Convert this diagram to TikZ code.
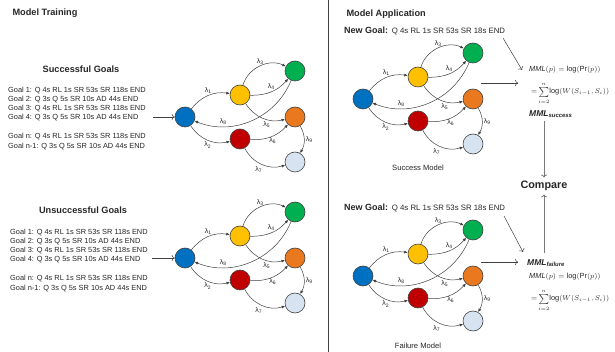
\documentclass[tikz,border=0pt]{standalone}
\usepackage{fontspec}
\setmainfont{Liberation Sans}
\usetikzlibrary{arrows.meta,calc}
\definecolor{TextClr}{RGB}{38,38,38}
\definecolor{EdgeClr}{RGB}{64,64,64}
\definecolor{RuleClr}{RGB}{120,120,120}
\definecolor{StartClr}{RGB}{0,112,192}
\definecolor{YellowClr}{RGB}{255,192,0}
\definecolor{GreenClr}{RGB}{0,176,80}
\definecolor{OrangeClr}{RGB}{234,120,30}
\definecolor{RedClr}{RGB}{192,0,0}
\definecolor{PaleClr}{RGB}{216,227,242}

\begin{document}
\begin{tikzpicture}[x=1pt,y=-1pt,
  state/.style={circle,draw=EdgeClr,line width=.6pt,minimum size=20pt,inner sep=0pt},
  trans/.style={draw=EdgeClr,line width=.5pt,-{Latex[length=3.5pt,width=3pt]}},
  lbl/.style={font=\fontsize{7}{8}\selectfont,text=TextClr,inner sep=1.5pt},
  title/.style={font=\fontsize{9.2}{11}\selectfont\bfseries,text=TextClr},
  goals/.style={font=\fontsize{7.4}{9.3}\selectfont,text=TextClr,align=left,inner sep=0pt},
  newgoal/.style={text=TextClr,inner sep=0pt},
  formula/.style={font=\fontsize{7.4}{9}\selectfont,text=TextClr,inner sep=0pt},
  mml/.style={font=\fontsize{8.5}{10}\selectfont\bfseries\itshape,text=TextClr,inner sep=0pt},
  caption/.style={font=\fontsize{7.6}{9}\selectfont,text=TextClr},
  link/.style={draw=EdgeClr,line width=.5pt,-{To[length=3pt,width=6pt]}},
  flow/.style={draw=RuleClr,line width=.8pt,-{To[length=3pt,width=6pt]}}]
\useasboundingbox (0,0) rectangle (615,352);

\draw[EdgeClr,line width=.7pt] (328,0) -- (328,352);

% left panel
\node[title,anchor=west] (train) at (9,13) {Model Training};
\node[title] (succ) at (81,69) {Successful Goals};
\node[goals,anchor=north west] (sgoals) at (8,86.5) {Goal 1: Q 4s RL 1s SR 53s SR 118s END\\
  Goal 2: Q 3s Q 5s SR 10s AD 44s END\\
  Goal 3: Q 4s RL 1s SR 53s SR 118s END\\
  Goal 4: Q 3s Q 5s SR 10s AD 44s END\\[9.6pt]
  Goal n: Q 4s RL 1s SR 53s SR 118s END\\
  Goal n-1: Q 3s Q 5s SR 10s AD 44s END};
\node[title] (unsucc) at (83,210) {Unsuccessful Goals};
\node[goals,anchor=north west] (ugoals) at (10,228.5) {Goal 1: Q 4s RL 1s SR 53s SR 118s END\\
  Goal 2: Q 3s Q 5s SR 10s AD 44s END\\
  Goal 3: Q 4s RL 1s SR 53s SR 118s END\\
  Goal 4: Q 3s Q 5s SR 10s AD 44s END\\[9.6pt]
  Goal n: Q 4s RL 1s SR 53s SR 118s END\\
  Goal n-1: Q 3s Q 5s SR 10s AD 44s END};

% the four state models
\foreach \g/\bx/\by in {s/185/117, u/185/258, a/363/99, f/363/276}{
  \begin{scope}[shift={(\bx,\by)}]
    \node[state,fill=StartClr] (\g b) at (0,0) {};
    \node[state,fill=YellowClr] (\g y) at (55,-22) {};
    \node[state,fill=GreenClr] (\g g) at (110,-46) {};
    \node[state,fill=OrangeClr] (\g o) at (110,0) {};
    \node[state,fill=RedClr] (\g r) at (55,22) {};
    \node[state,fill=PaleClr] (\g p) at (110,45) {};
    \draw[trans] (\g b) to[bend left=30] node[lbl,above] {λ\textsubscript{1}} (\g y);
    \draw[trans] (\g y) to[bend left=50] node[lbl,above] {λ\textsubscript{3}} (\g g);
    \draw[trans] (\g y) to[bend right=25] node[lbl,above,pos=.5] {λ\textsubscript{4}} (\g g);
    \draw[trans] (\g y) to[bend right=35] node[lbl,below,pos=.6] {λ\textsubscript{5}} (\g o);
    \draw[trans] (\g g) to[bend left=45] node[lbl,above,pos=.75] {λ\textsubscript{8}} (\g b);
    \draw[trans] (\g b) to[bend right=35] node[lbl,below] {λ\textsubscript{2}} (\g r);
    \draw[trans] (\g r) to[bend right=25] node[lbl,below,pos=.55] {λ\textsubscript{6}} (\g o);
    \draw[trans] (\g r) to[bend right=40] node[lbl,below left,pos=.55] {λ\textsubscript{7}} (\g p);
    \draw[trans] (\g o) to[bend left=30] node[lbl,right] {λ\textsubscript{9}} (\g p);
  \end{scope}
}

\coordinate (sin) at (153,117);
\coordinate (uin) at (152,258);
\draw[link] (sin) -- (sb);
\draw[link] (uin) -- (ub);

% right panel
\node[title,anchor=west] (apply) at (343,14) {Model Application};
\node[newgoal,anchor=west] (ngs) at (344,31) {{\fontsize{9}{10}\selectfont\bfseries New Goal:} {\fontsize{7.8}{9}\selectfont Q 4s RL 1s SR 53s SR 18s END}};
\node[caption] (smodel) at (418,168) {Success Model};
\node[formula,anchor=west] (fsucc) at (529,70) {$\mathit{MML}(p)=\log(\Pr(p))$};
\node[formula,anchor=west] (fsum) at (531,93) {$=\!\sum\limits_{i=2}^{n}\!\log(W(S_{i-1},S_i))$};
\node[mml,anchor=west] (mmls) at (529,114) {MML\textsubscript{success}};
\node[font=\fontsize{10.8}{13}\selectfont\bfseries,text=TextClr] (cmp) at (544,186) {Compare};

\node[newgoal,anchor=west] (ngf) at (344,208) {{\fontsize{9}{10}\selectfont\bfseries New Goal:} {\fontsize{7.8}{9}\selectfont Q 4s RL 1s SR 53s SR 18s END}};
\node[caption] (fmodel) at (418,346) {Failure Model};
\node[mml,anchor=west] (mmlf) at (527,263) {MML\textsubscript{failure}};
\node[formula,anchor=west] (ffail) at (529,277) {$\mathit{MML}(p)=\log(\Pr(p))$};
\node[formula,anchor=west] (fsumf) at (531,300) {$=\!\sum\limits_{i=2}^{n}\!\log(W(S_{i-1},S_i))$};

\coordinate (nsa) at (503,38);
\coordinate (nsb) at (522,70);
\coordinate (gsa) at (481,83);
\coordinate (nfa) at (504,216);
\coordinate (nfb) at (523,252);
\coordinate (gfa) at (481,262);
\draw[link] (nsa) -- (nsb);
\draw[link,shorten >=11pt] (gsa) -- (gsa -| fsucc.west);
\draw[link] (nfa) -- (nfb);
\draw[link,shorten >=9pt] (gfa) -- (gfa -| mmlf.west);
\draw[flow,shorten <=3pt] (cmp.north |- mmls.south) -- (cmp.north);
\draw[flow,shorten <=6pt] (cmp.south |- mmlf.north) -- (cmp.south);
\end{tikzpicture}
\end{document}
